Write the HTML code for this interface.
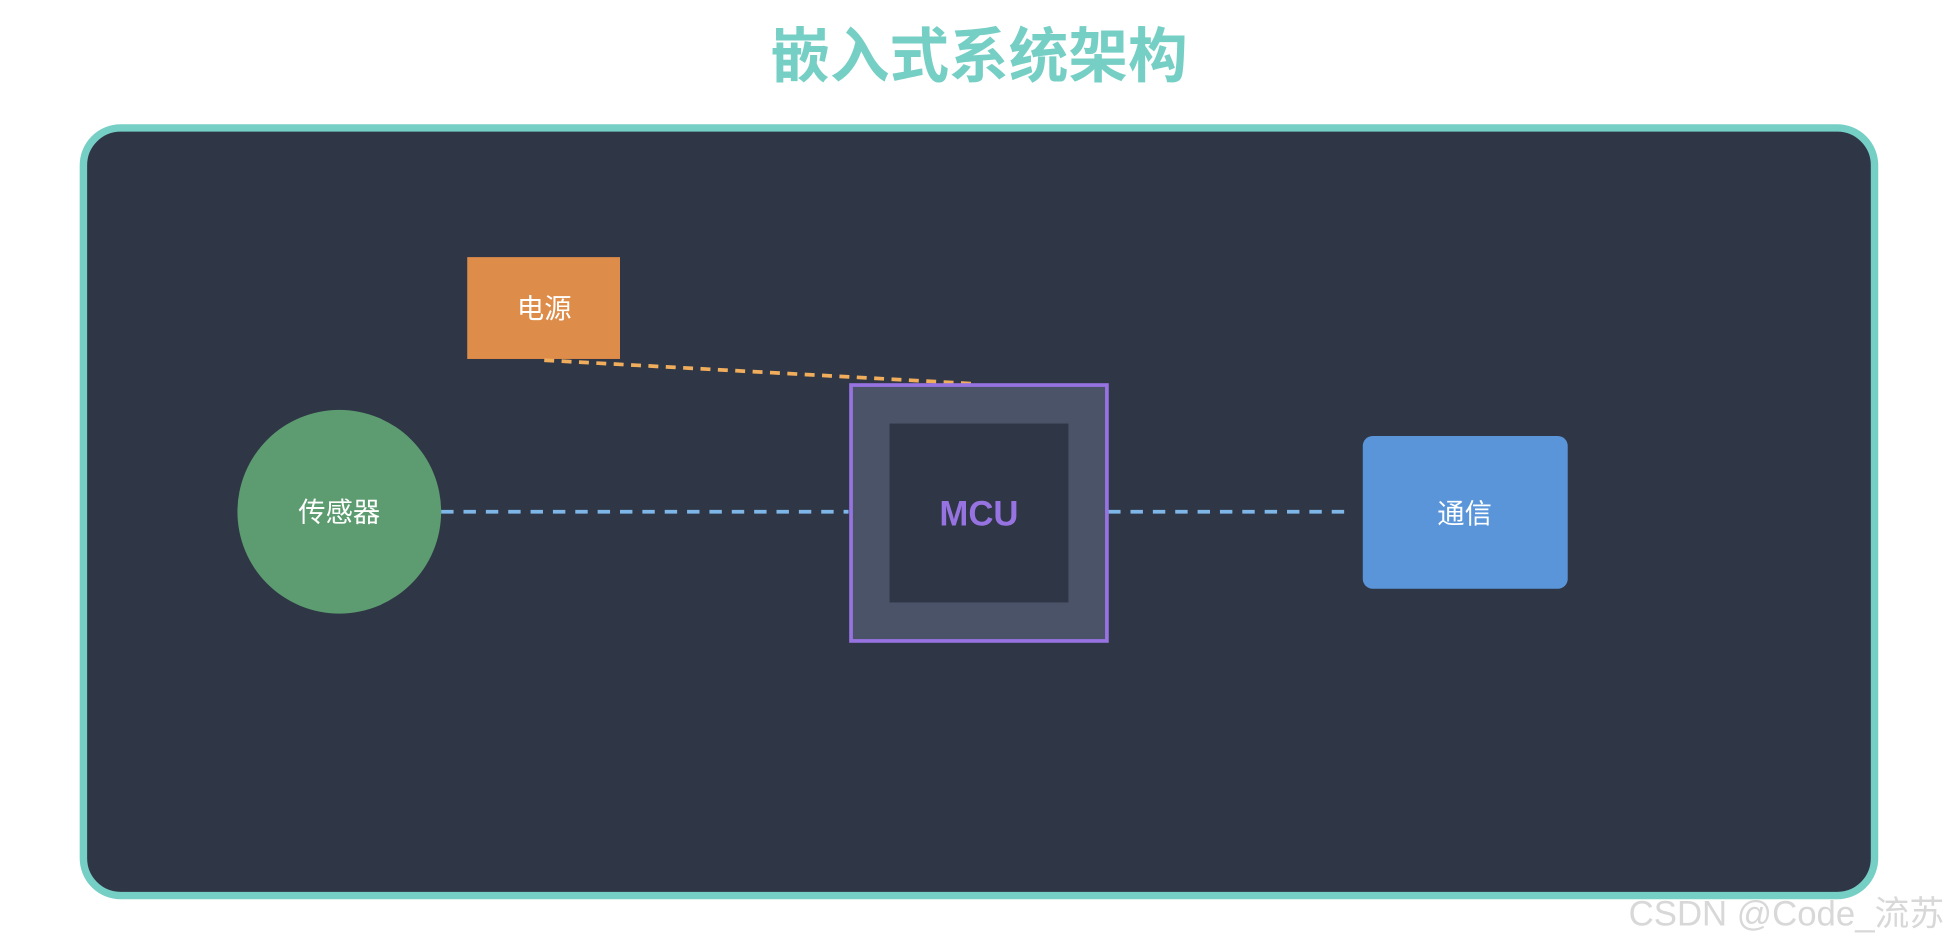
<!DOCTYPE html>
<html><head><meta charset="utf-8"><style>
html,body{margin:0;padding:0;background:#fff;width:1948px;height:944px;overflow:hidden}
svg{display:block}
text{font-family:"Liberation Sans","Noto Sans CJK SC",sans-serif}
</style></head><body>
<svg width="1948" height="944" viewBox="0 0 1568 760" xmlns="http://www.w3.org/2000/svg">
<rect width="1568" height="760" fill="#fff"/>
<text x="788" y="62" text-anchor="middle" font-size="48" font-weight="bold" fill="#76cfc5">嵌入式系统架构</text>
<rect x="67" y="103" width="1442" height="618" rx="30" fill="#2f3646" stroke="#76cfc5" stroke-width="6"/>
<rect x="376" y="207" width="123" height="82" fill="#de8c4a"/>
<text x="438" y="256" text-anchor="middle" font-size="22" fill="#fff">电源</text>
<line x1="438" y1="290" x2="785" y2="309" stroke="#f0ad5c" stroke-width="3" stroke-dasharray="8 6"/>
<circle cx="273" cy="412" r="82" fill="#5c9c70"/>
<text x="273" y="420" text-anchor="middle" font-size="22" fill="#fff">传感器</text>
<line x1="355" y1="412" x2="683" y2="412" stroke="#7eb6e8" stroke-width="3" stroke-dasharray="10 8"/>
<line x1="892" y1="412" x2="1090" y2="412" stroke="#7eb6e8" stroke-width="3" stroke-dasharray="10 8"/>
<rect x="685" y="310" width="206" height="206" fill="#4a5367" stroke="#9673e0" stroke-width="3"/>
<rect x="716" y="341" width="144" height="144" fill="#2f3646"/>
<text x="788" y="423" text-anchor="middle" font-size="28" font-weight="bold" fill="#9673e0">MCU</text>
<rect x="1097" y="351" width="165" height="123" rx="8" fill="#5a95d9"/>
<text x="1179" y="421" text-anchor="middle" font-size="22" fill="#fff">通信</text>
<text x="1565" y="745" text-anchor="end" font-size="28" fill="#d8d8d8">CSDN @Code_流苏</text>
</svg>
</body></html>
